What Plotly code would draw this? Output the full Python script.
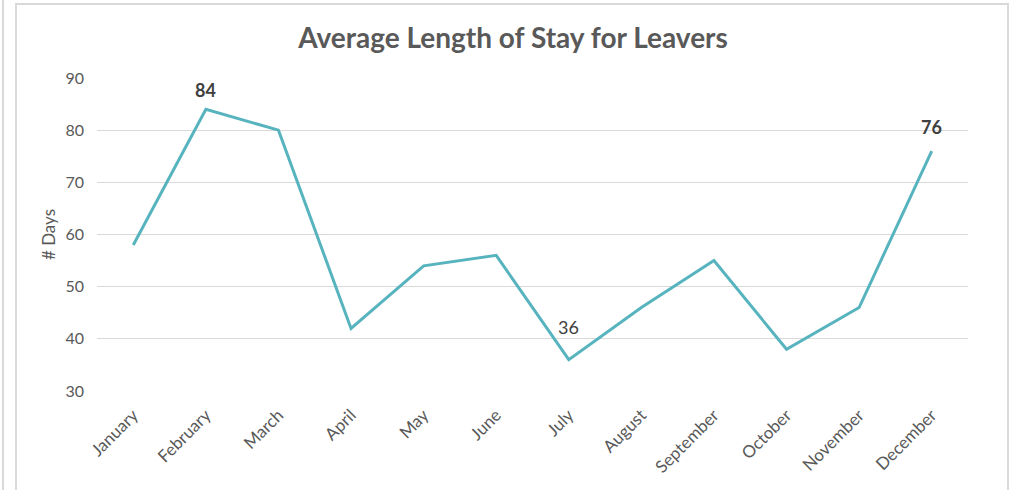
import plotly.graph_objects as go

months = ["January", "February", "March", "April", "May", "June", "July",
          "August", "September", "October", "November", "December"]
days = [58, 84, 80, 42, 54, 56, 36, 46, 55, 38, 46, 76]
labelled = ["February", "July", "December"]
label_bold = {"February": True, "July": False, "December": True}
label_shift = {"February": 19, "July": 33, "December": 24}

W, H = 1017, 490
L, T = 97, 78
pw, ph = 871, 313
R = W - L - pw
B = H - T - ph

def px_x(x):
    return (x - L) / pw

def px_y(y):
    return (T + ph - y) / ph

FONT = "Lato, Noto Sans, sans-serif"

fig = go.Figure()
fig.add_trace(go.Scatter(
    x=months, y=days, mode="lines",
    line=dict(color="#57B4BE", width=3),
    hoverinfo="x+y", showlegend=False,
))

for m in labelled:
    v = days[months.index(m)]
    fig.add_annotation(
        x=m, y=v, xref="x", yref="y",
        text=f"<b>{v}</b>" if label_bold[m] else str(v),
        showarrow=False, yshift=label_shift[m],
        font=dict(family=FONT, size=18, color="#404040"),
    )

fig.update_layout(
    width=W, height=H,
    margin=dict(l=L, r=R, t=T, b=B),
    paper_bgcolor="white", plot_bgcolor="white",
    title=dict(
        text="<b>Average Length of Stay for Leavers</b>",
        x=px_x(513), xanchor="center", xref="paper",
        y=1 - 38 / H, yanchor="middle",
        font=dict(family=FONT, size=28, color="#595959"),
    ),
    font=dict(family=FONT, color="#595959"),
    xaxis=dict(
        type="category", range=[-0.5, 11.5],
        showgrid=False, showline=False, zeroline=False, ticks="",
        tickangle=-45, tickfont=dict(size=17, color="#595959"),
        ticklabelstandoff=10,
    ),
    yaxis=dict(
        range=[30, 90], dtick=10, tick0=30,
        showgrid=True, gridcolor="#D9D9D9", gridwidth=1,
        zeroline=False, showline=False, ticks="",
        tickfont=dict(size=16, color="#595959"),
        ticklabelstandoff=12,
        title=dict(text="# Days", font=dict(size=17, color="#595959"), standoff=5),
    ),
    shapes=[
        dict(type="rect", xref="paper", yref="paper",
             x0=px_x(16), x1=px_x(1008), y0=px_y(4), y1=px_y(520),
             line=dict(color="#D9D9D9", width=2), fillcolor="rgba(0,0,0,0)", layer="below"),
        dict(type="line", xref="paper", yref="paper",
             x0=px_x(3), x1=px_x(3), y0=px_y(0), y1=px_y(520),
             line=dict(color="#D9D9D9", width=2)),
    ],
)

fig.write_html("out.html",
               config={"displayModeBar": False},
               post_script="document.body.style.margin='0';document.body.style.padding='0';")
